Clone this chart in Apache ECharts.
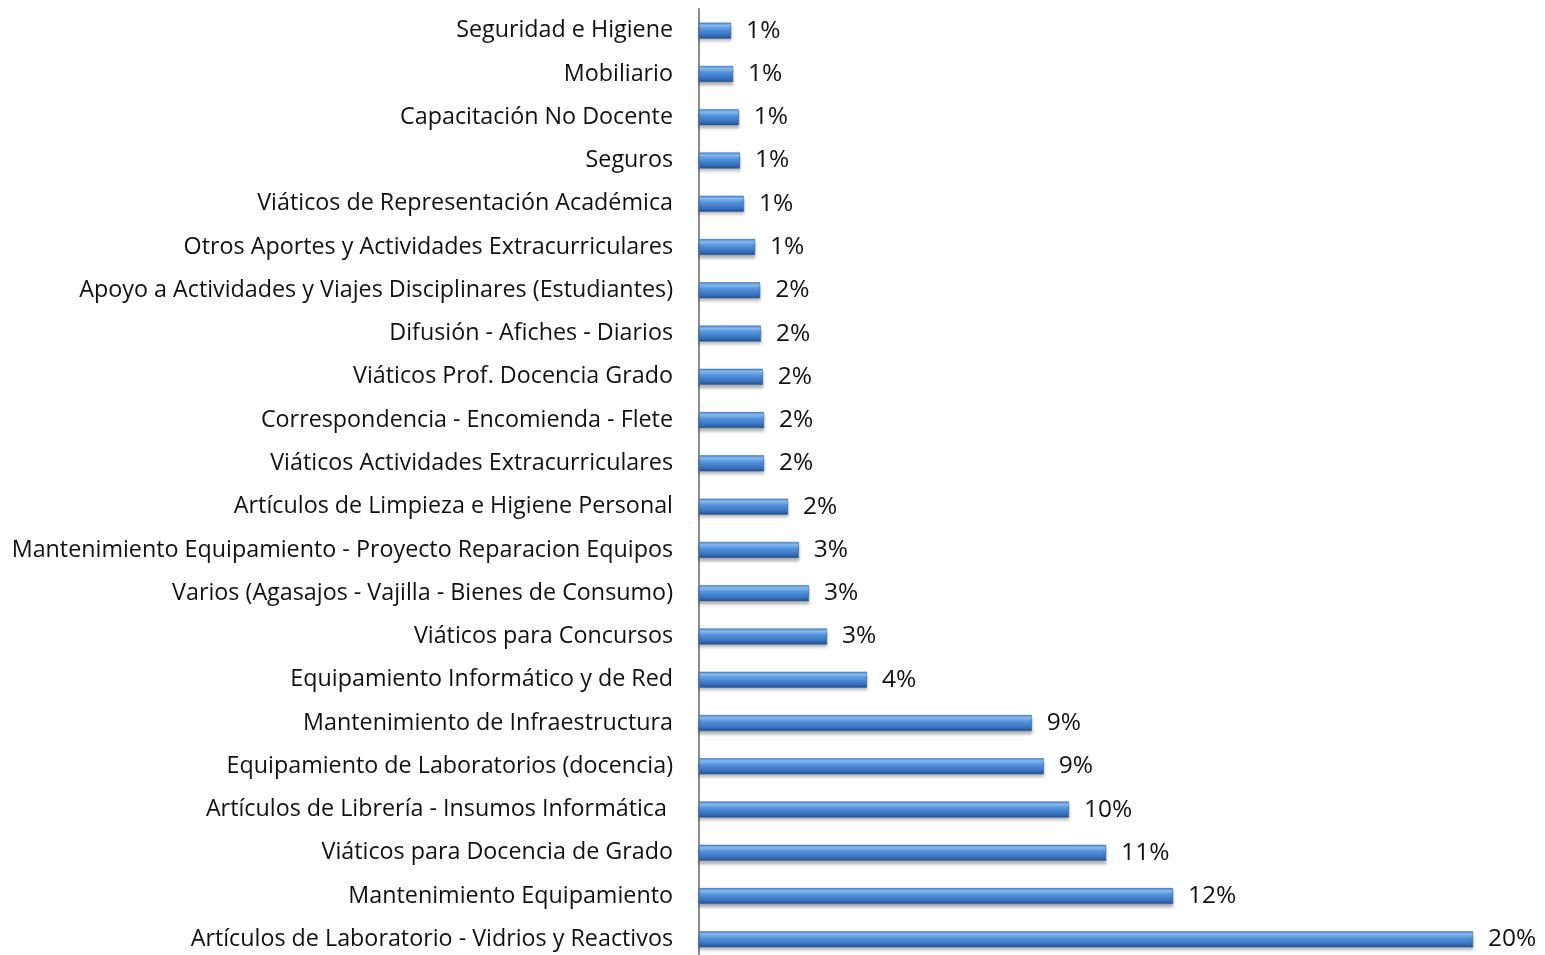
<!DOCTYPE html>
<html>
<head>
<meta charset="utf-8">
<script src="https://cdn.jsdelivr.net/npm/echarts@6/dist/echarts.min.js"></script>
<style>
  html, body { margin: 0; padding: 0; background: #fff; }
  #chart { width: 1545px; height: 955px; }
</style>
</head>
<body>
<div id="chart"></div>
<script>
// categories, top to bottom
var categorias = [
  'Seguridad e Higiene',
  'Mobiliario',
  'Capacitación No Docente',
  'Seguros',
  'Viáticos de Representación Académica',
  'Otros Aportes y Actividades Extracurriculares',
  'Apoyo a Actividades y Viajes Disciplinares (Estudiantes)',
  'Difusión - Afiches - Diarios',
  'Viáticos Prof. Docencia Grado',
  'Correspondencia - Encomienda - Flete',
  'Viáticos Actividades Extracurriculares',
  'Artículos de Limpieza e Higiene Personal',
  'Mantenimiento Equipamiento - Proyecto Reparacion Equipos',
  'Varios (Agasajos - Vajilla - Bienes de Consumo)',
  'Viáticos para Concursos',
  'Equipamiento Informático y de Red',
  'Mantenimiento de Infraestructura',
  'Equipamiento de Laboratorios (docencia)',
  'Artículos de Librería - Insumos Informática ',
  'Viáticos para Docencia de Grado',
  'Mantenimiento Equipamiento',
  'Artículos de Laboratorio - Vidrios y Reactivos'
];

// percent of total
var porcentajes = [
  0.83, 0.88, 1.03, 1.06, 1.16, 1.45, 1.58, 1.60, 1.65, 1.68, 1.68,
  2.30, 2.58, 2.84, 3.31, 4.34, 8.60, 8.91, 9.56, 10.52, 12.25, 20.0
];

var chart = echarts.init(document.getElementById('chart'));

// bevelled blue look
var barColor = new echarts.graphic.LinearGradient(0, 0, 0, 1, [
  { offset: 0, color: '#4a86d2' },
  { offset: 0.18, color: '#8cc2f7' },
  { offset: 0.4, color: '#5595e0' },
  { offset: 0.78, color: '#3871bd' },
  { offset: 1, color: '#254f87' }
]);

var option = {
  animation: false,
  textStyle: { fontFamily: 'Open Sans' },
  grid: {
    left: 699,
    right: 72,
    top: 9,
    height: 952,
    outerBoundsMode: 'none',
    containLabel: false
  },
  xAxis: {
    type: 'value',
    min: 0,
    max: 20,
    show: false
  },
  yAxis: {
    type: 'category',
    inverse: true,
    data: categorias,
    axisLine: { show: true, lineStyle: { color: '#8c8c8c', width: 2 } },
    axisTick: { show: false },
    axisLabel: {
      color: '#111',
      fontSize: 23.3,
      margin: 26,
      fontFamily: 'Open Sans'
    }
  },
  series: [{
    type: 'bar',
    data: porcentajes,
    barWidth: 16,
    itemStyle: {
      color: barColor,
      borderColor: '#2f62a3',
      borderWidth: 0.5,
      shadowColor: 'rgba(0,0,0,0.3)',
      shadowBlur: 3,
      shadowOffsetY: 3
    },
    label: {
      show: true,
      position: 'right',
      distance: 15,
      color: '#111',
      fontSize: 24.5,
      fontFamily: 'Open Sans',
      formatter: function (p) { return Math.round(p.value) + '%'; }
    }
  }]
};

chart.setOption(option);
</script>
</body>
</html>
